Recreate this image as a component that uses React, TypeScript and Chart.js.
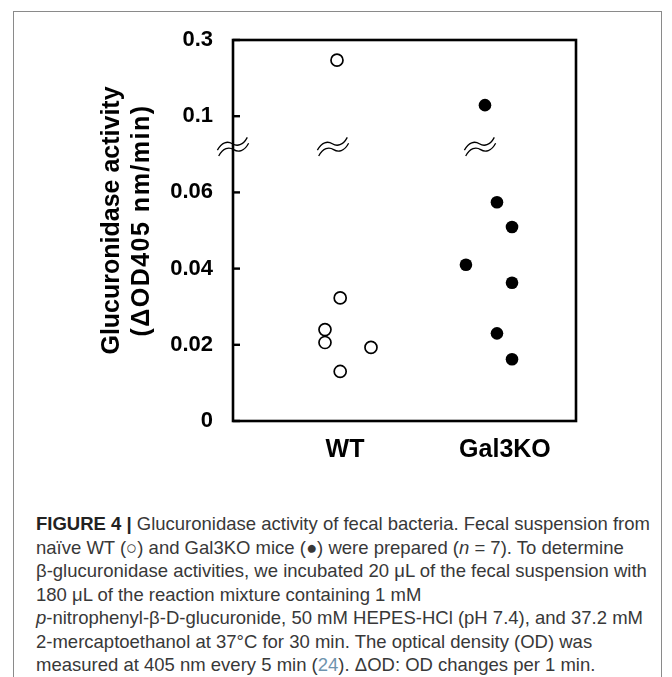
import React, { useEffect, useRef } from "react";
import { Chart, registerables } from "chart.js";

Chart.register(...registerables);

// ---- data ----
const categories = ["WT", "Gal3KO"];
const yTickValues = [0, 0.02, 0.04, 0.06, 0.1, 0.3];
const yTickLabels = ["0", "0.02", "0.04", "0.06", "0.1", "0.3"];
const yTitleLines = ["Glucuronidase activity", "(\u0394OD405 nm/min)"];
const wtValues = [0.247, 0.0323, 0.024, 0.0206, 0.0193, 0.013];
const wtJitter = [-0.05, -0.03, -0.125, -0.125, 0.1625, -0.03];
const koValues = [0.129, 0.0574, 0.0509, 0.041, 0.0363, 0.023, 0.0162];
const koJitter = [-0.125, -0.05, 0.044, -0.244, 0.044, -0.05, 0.044];
const breakValue = 0.072;
const breakMarkX = [-0.7, -0.075, 0.844];

// broken axis: 0..0.06 linear (0.02 per unit), 0.1..0.3 linear (0.2 per unit)
function toAxis(v: number): number {
  return v < 0.1 ? v / 0.02 : 4 + (v - 0.1) / 0.2;
}

const FONT = '"Liberation Sans", Arial, sans-serif';

const framePlugin = {
  id: "framePlugin",
  afterDraw(chart: any) {
    const { ctx, chartArea } = chart;
    const ys = chart.scales.y;
    const xs = chart.scales.x;
    ctx.save();
    ctx.strokeStyle = "#000";
    ctx.lineWidth = 2.6;
    ctx.strokeRect(chartArea.left, chartArea.top, chartArea.right - chartArea.left, chartArea.bottom - chartArea.top);
    // inward ticks
    ctx.lineWidth = 2.4;
    yTickValues.forEach((v) => {
      const py = ys.getPixelForValue(toAxis(v));
      ctx.beginPath();
      ctx.moveTo(chartArea.left, py);
      ctx.lineTo(chartArea.left + 7, py);
      ctx.stroke();
    });
    // break marks
    const by = ys.getPixelForValue(toAxis(breakValue));
    ctx.lineWidth = 1.3;
    breakMarkX.forEach((bx) => {
      const px = xs.getPixelForValue(bx);
      ctx.save();
      ctx.translate(px, by);
      ctx.rotate(-0.22);
      [-3, 3].forEach((dy) => {
        ctx.beginPath();
        ctx.moveTo(-16, dy + 3);
        ctx.bezierCurveTo(-10, dy - 4, -4, dy - 4, 0, dy);
        ctx.bezierCurveTo(4, dy + 4, 10, dy + 4, 16, dy - 3);
        ctx.stroke();
      });
      ctx.restore();
    });
    // y-axis title (two lines, rotated)
    ctx.fillStyle = "#000";
    ctx.font = `bold 25px ${FONT}`;
    ctx.textAlign = "center";
    ctx.textBaseline = "middle";
    const cy = (chartArea.top + chartArea.bottom) / 2 - 10;
    const lineX = [chartArea.left - 121, chartArea.left - 91];
    yTitleLines.forEach((t, i) => {
      ctx.save();
      ctx.translate(lineX[i], cy);
      ctx.rotate(-Math.PI / 2);
      (ctx as any).letterSpacing = i === 1 ? "1.5px" : "0px";
      ctx.fillText(t, 0, 0);
      ctx.restore();
    });
    ctx.restore();
  },
};

export default function App() {
  const ref = useRef<HTMLCanvasElement | null>(null);
  useEffect(() => {
    if (!ref.current) return;
    const chart = new Chart(ref.current, {
      type: "scatter",
      data: {
        datasets: [
          {
            label: "WT",
            data: wtValues.map((v, i) => ({ x: 0 + wtJitter[i], y: toAxis(v) })),
            pointStyle: "circle",
            pointRadius: 6,
            pointBorderWidth: 1.7,
            pointBackgroundColor: "#fff",
            pointBorderColor: "#000",
          },
          {
            label: "Gal3KO",
            data: koValues.map((v, i) => ({ x: 1 + koJitter[i], y: toAxis(v) })),
            pointStyle: "circle",
            pointRadius: 6.3,
            pointBorderWidth: 0,
            pointBackgroundColor: "#000",
            pointBorderColor: "#000",
          },
        ],
      },
      options: {
        animation: false,
        responsive: false,
        devicePixelRatio: 1,
        layout: { padding: { left: 97, right: 96, top: 40, bottom: 0 } },
        plugins: { legend: { display: false }, tooltip: { enabled: false } },
        scales: {
          x: {
            type: "linear",
            min: -0.7,
            max: 1.444,
            grid: { display: false, drawTicks: false },
            border: { display: false },
            afterBuildTicks: (s: any) => {
              s.ticks = categories.map((_, i) => ({ value: i }));
            },
            afterFit: (s: any) => {
              s.height = 59;
            },
            ticks: {
              callback: (_v: any, i: number) => categories[i],
              font: { family: FONT, size: 25, weight: "bold" },
              color: "#000",
              padding: 14,
              maxRotation: 0,
              autoSkip: false,
            },
          },
          y: {
            type: "linear",
            min: 0,
            max: 5,
            grid: { display: false, drawTicks: false },
            border: { display: false },
            afterBuildTicks: (s: any) => {
              s.ticks = yTickValues.map((v) => ({ value: toAxis(v) }));
            },
            afterFit: (s: any) => {
              s.width = 136;
            },
            ticks: {
              callback: (_v: any, i: number) => yTickLabels[i],
              font: { family: FONT, size: 22, weight: "bold" },
              color: "#000",
              padding: 20,
              autoSkip: false,
            },
          },
        },
      },
      plugins: [framePlugin],
    });
    return () => chart.destroy();
  }, []);

  return (
    <div>
      <div
        style={{
          position: "absolute",
          left: 13,
          top: 11,
          width: 649,
          height: 700,
          border: "1px solid #8a8a8a",
          boxSizing: "border-box",
        }}
      />
      <canvas
        ref={ref}
        width={672}
        height={480}
        style={{ position: "absolute", left: 0, top: 0, width: 672, height: 480 }}
      />
      <div
        style={{
          position: "absolute",
          left: 36,
          top: 512,
          fontFamily: FONT,
          fontSize: 18.5,
          lineHeight: "23.5px",
          color: "#383838",
          whiteSpace: "nowrap",
        }}
      >
        <b style={{ color: "#222" }}>FIGURE 4 |</b> Glucuronidase activity of fecal bacteria. Fecal suspension from
        <br />
        naïve WT (○) and Gal3KO mice (●) were prepared (<i>n</i> = 7). To determine
        <br />
        β-glucuronidase activities, we incubated 20 μL of the fecal suspension with
        <br />
        180 μL of the reaction mixture containing 1 mM
        <br />
        <i>p</i>-nitrophenyl-β-D-glucuronide, 50 mM HEPES-HCl (pH 7.4), and 37.2 mM
        <br />
        2-mercaptoethanol at 37°C for 30 min. The optical density (OD) was
        <br />
        measured at 405 nm every 5 min (<span style={{ color: "#6f93ad" }}>24</span>). ΔOD: OD changes per 1 min.
      </div>
    </div>
  );
}
